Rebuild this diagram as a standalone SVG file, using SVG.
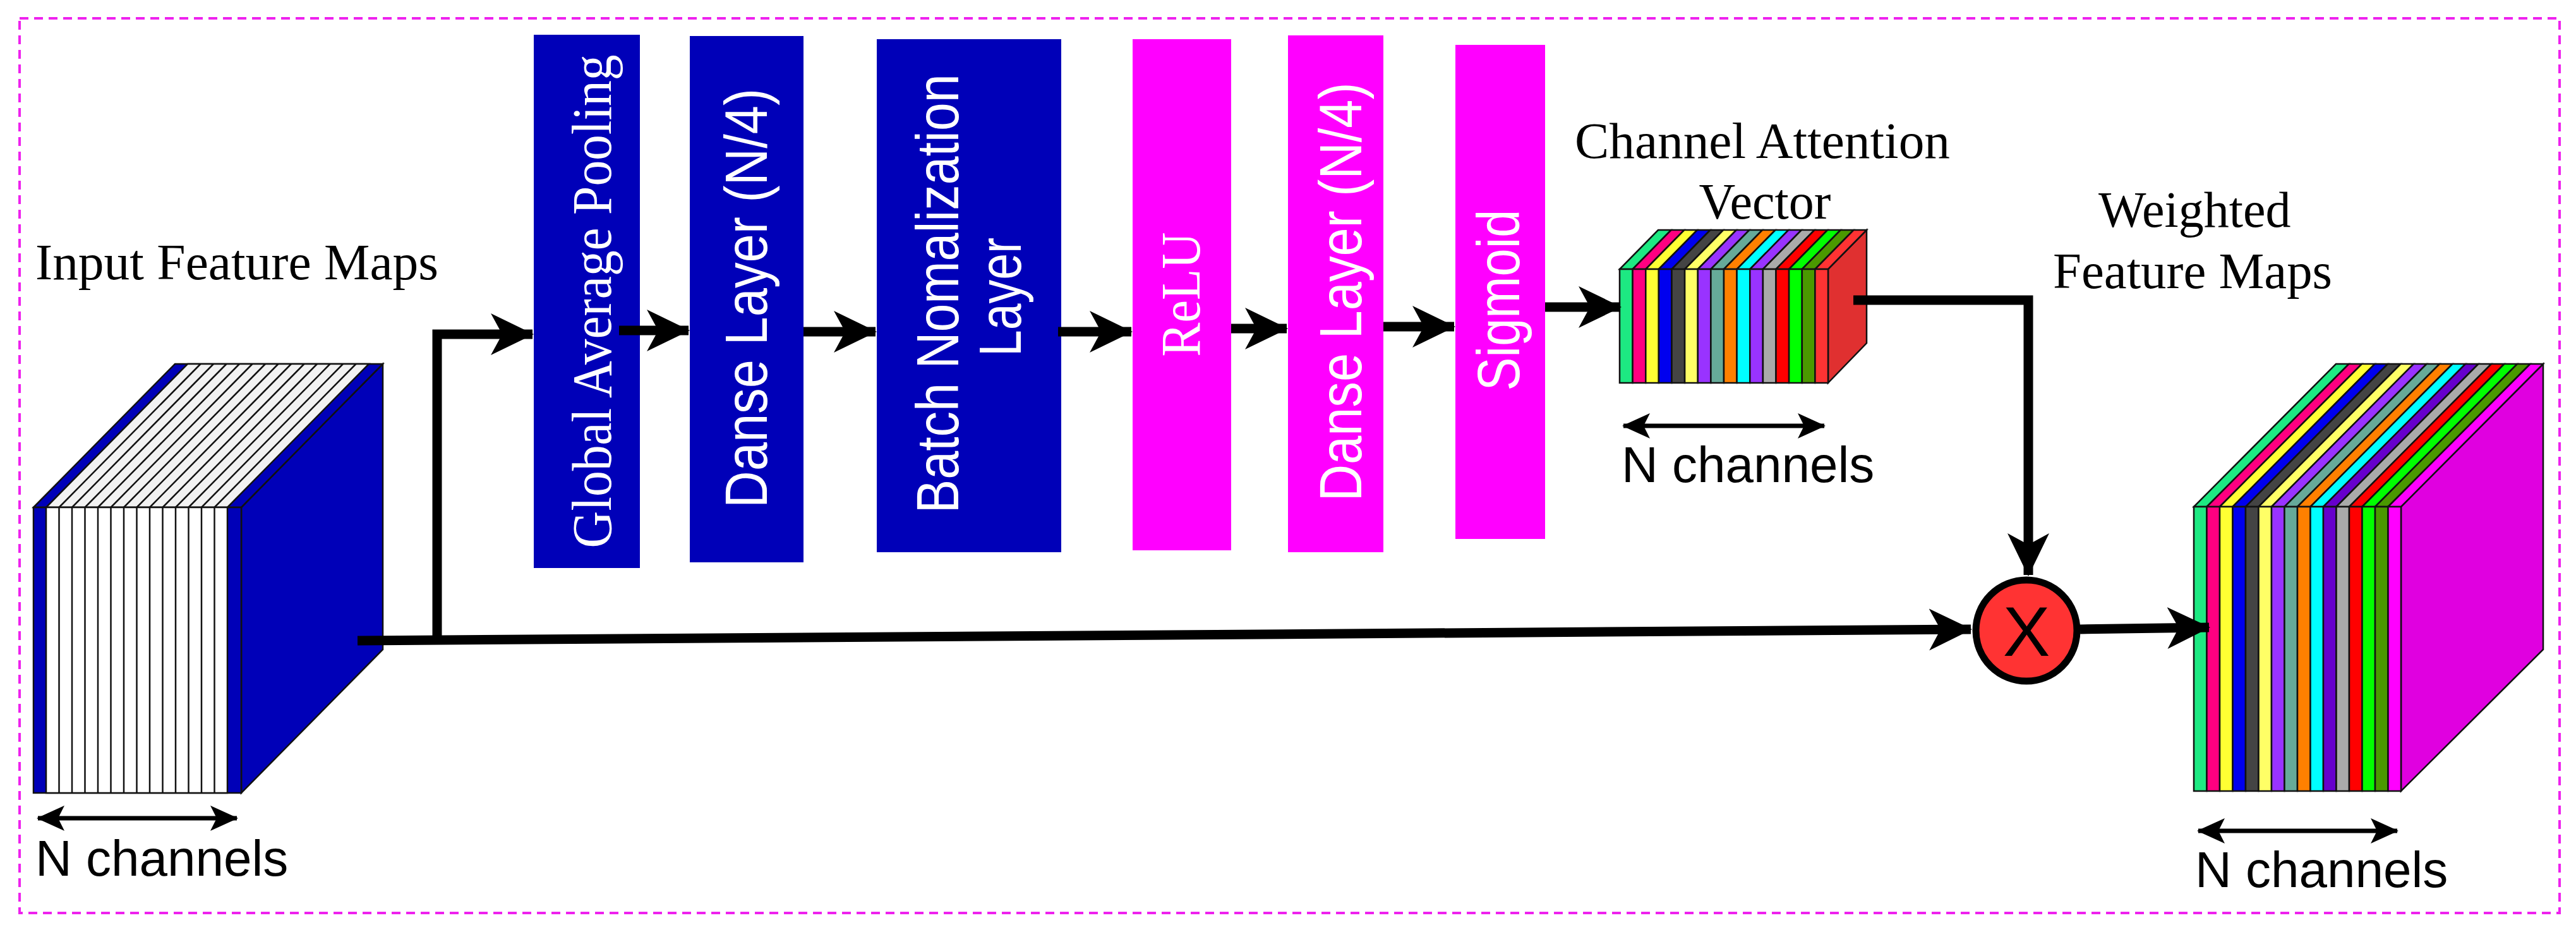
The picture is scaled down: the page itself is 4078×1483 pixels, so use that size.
<svg xmlns="http://www.w3.org/2000/svg" width="4078" height="1483" viewBox="0 0 4078 1483">
<defs>
<style>
.serif{font-family:"Liberation Serif","Times New Roman",serif;}
.sans{font-family:"Liberation Sans",Arial,sans-serif;}
.lbl{fill:#000;font-size:80px;}
.boxtxt{fill:#fff;}
.conn{fill:none;stroke:#000;stroke-width:15;}
.dim{fill:none;stroke:#000;stroke-width:7;}
.s{stroke:#111;stroke-width:2.5;}
.blue{fill:#0000b8;}
.mag{fill:#ff00ff;}
</style>
<marker id="ah" markerUnits="userSpaceOnUse" markerWidth="70" markerHeight="70" viewBox="0 0 70 66" refX="66" refY="33" orient="auto">
<path d="M0,0 L68,33 L0,66 L18,33 Z" fill="#000"/>
</marker>
<marker id="dh" markerUnits="userSpaceOnUse" markerWidth="44" markerHeight="40" viewBox="0 0 44 40" refX="42" refY="20" orient="auto-start-reverse">
<path d="M0,0 L44,20 L0,40 L10,20 Z" fill="#000"/>
</marker>
</defs>
<rect width="4078" height="1483" fill="#fff"/>
<rect x="31" y="29" width="4021" height="1416" fill="none" stroke="#ee22ee" stroke-width="4" stroke-dasharray="14 9"/>

<g id="input-feature-maps">
<text class="serif lbl" x="56" y="442" font-size="82" textLength="638" lengthAdjust="spacingAndGlyphs">Input Feature Maps</text>
<polygon class="blue s" points="382,803 606,576 606,1028 382,1255"/>
<polygon class="blue s" points="53,803 277,576 606,576 382,803"/>
<polygon fill="#f2f2f2" class="s" points="73,803 297,576 584,576 360,803"/>
<g stroke="#111" stroke-width="2.5">
<line x1="93.5" y1="803" x2="317.5" y2="576"/><line x1="114" y1="803" x2="338" y2="576"/><line x1="134.5" y1="803" x2="358.5" y2="576"/><line x1="155" y1="803" x2="379" y2="576"/><line x1="175.5" y1="803" x2="399.5" y2="576"/><line x1="196" y1="803" x2="420" y2="576"/><line x1="216.5" y1="803" x2="440.5" y2="576"/><line x1="237" y1="803" x2="461" y2="576"/><line x1="257.5" y1="803" x2="481.5" y2="576"/><line x1="278" y1="803" x2="502" y2="576"/><line x1="298.5" y1="803" x2="522.5" y2="576"/><line x1="319" y1="803" x2="543" y2="576"/><line x1="339.5" y1="803" x2="563.5" y2="576"/>
</g>
<rect class="blue s" x="53" y="803" width="329" height="452"/>
<rect fill="#fff" class="s" x="73" y="803" width="287" height="452"/>
<g stroke="#111" stroke-width="2.5">
<line x1="93.5" y1="803" x2="93.5" y2="1255"/><line x1="114" y1="803" x2="114" y2="1255"/><line x1="134.5" y1="803" x2="134.5" y2="1255"/><line x1="155" y1="803" x2="155" y2="1255"/><line x1="175.5" y1="803" x2="175.5" y2="1255"/><line x1="196" y1="803" x2="196" y2="1255"/><line x1="216.5" y1="803" x2="216.5" y2="1255"/><line x1="237" y1="803" x2="237" y2="1255"/><line x1="257.5" y1="803" x2="257.5" y2="1255"/><line x1="278" y1="803" x2="278" y2="1255"/><line x1="298.5" y1="803" x2="298.5" y2="1255"/><line x1="319" y1="803" x2="319" y2="1255"/><line x1="339.5" y1="803" x2="339.5" y2="1255"/>
</g>
<line class="dim" x1="60" y1="1295" x2="375" y2="1295" marker-start="url(#dh)" marker-end="url(#dh)"/>
<text class="sans lbl" x="56" y="1386" font-size="84">N channels</text>
</g>

<g id="gap">
<rect class="blue" x="845" y="55" width="168" height="844"/>
<text class="serif boxtxt" transform="translate(937,477) rotate(-90)" text-anchor="middle" dominant-baseline="central" font-size="88" textLength="781" lengthAdjust="spacingAndGlyphs">Global Average Pooling</text>
</g>
<g id="dense1">
<rect class="blue" x="1092" y="57" width="180" height="833"/>
<text class="sans boxtxt" transform="translate(1181,472) rotate(-90)" text-anchor="middle" dominant-baseline="central" font-size="94" textLength="664" lengthAdjust="spacingAndGlyphs">Danse Layer (N/4)</text>
</g>
<g id="batchnorm">
<rect class="blue" x="1388" y="62" width="292" height="812"/>
<text class="sans boxtxt" transform="translate(1484,465) rotate(-90)" text-anchor="middle" dominant-baseline="central" font-size="94" textLength="695" lengthAdjust="spacingAndGlyphs">Batch Nomalization</text>
<text class="sans boxtxt" transform="translate(1583,470) rotate(-90)" text-anchor="middle" dominant-baseline="central" font-size="94" textLength="188" lengthAdjust="spacingAndGlyphs">Layer</text>
</g>
<g id="relu">
<rect class="mag" x="1793" y="62" width="156" height="809"/>
<text class="serif boxtxt" transform="translate(1869,466) rotate(-90)" text-anchor="middle" dominant-baseline="central" font-size="88" textLength="197" lengthAdjust="spacingAndGlyphs">ReLU</text>
</g>
<g id="dense2">
<rect class="mag" x="2039" y="56" width="151" height="818"/>
<text class="sans boxtxt" transform="translate(2122,462) rotate(-90)" text-anchor="middle" dominant-baseline="central" font-size="94" textLength="663" lengthAdjust="spacingAndGlyphs">Danse Layer (N/4)</text>
</g>
<g id="sigmoid">
<rect class="mag" x="2304" y="71" width="142" height="782"/>
<text class="sans boxtxt" transform="translate(2372,475) rotate(-90)" text-anchor="middle" dominant-baseline="central" font-size="94" textLength="287" lengthAdjust="spacingAndGlyphs">Sigmoid</text>
</g>

<g id="attention-vector">
<text class="serif lbl" x="2493" y="250" font-size="84" textLength="594" lengthAdjust="spacingAndGlyphs">Channel Attention</text>
<text class="serif lbl" x="2794" y="346" font-size="84" text-anchor="middle">Vector</text>
<polygon fill="#e03030" class="s" points="2894,426 2955,364 2955,543 2894,606"/>
<g class="s">
<polygon fill="#1de982" points="2564,426 2584.6,426 2645.6,364 2625,364"/>
<polygon fill="#ff0080" points="2584.6,426 2605.3,426 2666.3,364 2645.6,364"/>
<polygon fill="#ffff33" points="2605.3,426 2625.9,426 2686.9,364 2666.3,364"/>
<polygon fill="#0000ee" points="2625.9,426 2646.5,426 2707.5,364 2686.9,364"/>
<polygon fill="#444444" points="2646.5,426 2667.1,426 2728.1,364 2707.5,364"/>
<polygon fill="#ffff66" points="2667.1,426 2687.8,426 2748.8,364 2728.1,364"/>
<polygon fill="#9933ff" points="2687.8,426 2708.4,426 2769.4,364 2748.8,364"/>
<polygon fill="#66aa99" points="2708.4,426 2729,426 2790,364 2769.4,364"/>
<polygon fill="#ff8000" points="2729,426 2749.6,426 2810.6,364 2790,364"/>
<polygon fill="#00ffff" points="2749.6,426 2770.3,426 2831.3,364 2810.6,364"/>
<polygon fill="#9933ff" points="2770.3,426 2790.9,426 2851.9,364 2831.3,364"/>
<polygon fill="#aaaaaa" points="2790.9,426 2811.5,426 2872.5,364 2851.9,364"/>
<polygon fill="#ff0000" points="2811.5,426 2832.1,426 2893.1,364 2872.5,364"/>
<polygon fill="#00ff00" points="2832.1,426 2852.8,426 2913.8,364 2893.1,364"/>
<polygon fill="#4a9900" points="2852.8,426 2873.4,426 2934.4,364 2913.8,364"/>
<polygon fill="#ff3333" points="2873.4,426 2894,426 2955,364 2934.4,364"/>
<rect fill="#1de982" x="2564" y="426" width="20.6" height="180"/>
<rect fill="#ff0080" x="2584.6" y="426" width="20.7" height="180"/>
<rect fill="#ffff33" x="2605.3" y="426" width="20.6" height="180"/>
<rect fill="#0000ee" x="2625.9" y="426" width="20.6" height="180"/>
<rect fill="#444444" x="2646.5" y="426" width="20.6" height="180"/>
<rect fill="#ffff66" x="2667.1" y="426" width="20.7" height="180"/>
<rect fill="#9933ff" x="2687.8" y="426" width="20.6" height="180"/>
<rect fill="#66aa99" x="2708.4" y="426" width="20.6" height="180"/>
<rect fill="#ff8000" x="2729" y="426" width="20.6" height="180"/>
<rect fill="#00ffff" x="2749.6" y="426" width="20.7" height="180"/>
<rect fill="#9933ff" x="2770.3" y="426" width="20.6" height="180"/>
<rect fill="#aaaaaa" x="2790.9" y="426" width="20.6" height="180"/>
<rect fill="#ff0000" x="2811.5" y="426" width="20.6" height="180"/>
<rect fill="#00ff00" x="2832.1" y="426" width="20.7" height="180"/>
<rect fill="#4a9900" x="2852.8" y="426" width="20.6" height="180"/>
<rect fill="#ff3333" x="2873.4" y="426" width="20.6" height="180"/>
</g>
<line class="dim" x1="2570" y1="674" x2="2888" y2="674" marker-start="url(#dh)" marker-end="url(#dh)"/>
<text class="sans lbl" x="2567" y="763" font-size="84">N channels</text>
</g>

<g id="multiply">
<circle cx="3208" cy="998" r="80" fill="#ff3333" stroke="#000" stroke-width="11"/>
<text class="sans" x="3208" y="1038" text-anchor="middle" font-size="112" fill="#000">X</text>
</g>

<g id="weighted-feature-maps">
<text class="serif lbl" x="3322" y="359" font-size="84">Weighted</text>
<text class="serif lbl" x="3250" y="456" font-size="84" textLength="442" lengthAdjust="spacingAndGlyphs">Feature Maps</text>
<polygon fill="#e000e0" class="s" points="3801,802 4026,576 4026,1028 3801,1252"/>
<g class="s">
<polygon fill="#1de982" points="3473,802 3493.5,802 3718.5,576 3698,576"/>
<polygon fill="#ff0080" points="3493.5,802 3514,802 3739,576 3718.5,576"/>
<polygon fill="#ffff33" points="3514,802 3534.5,802 3759.5,576 3739,576"/>
<polygon fill="#0000ee" points="3534.5,802 3555,802 3780,576 3759.5,576"/>
<polygon fill="#444444" points="3555,802 3575.5,802 3800.5,576 3780,576"/>
<polygon fill="#ffff66" points="3575.5,802 3596,802 3821,576 3800.5,576"/>
<polygon fill="#9933ff" points="3596,802 3616.5,802 3841.5,576 3821,576"/>
<polygon fill="#66aa99" points="3616.5,802 3637,802 3862,576 3841.5,576"/>
<polygon fill="#ff8000" points="3637,802 3657.5,802 3882.5,576 3862,576"/>
<polygon fill="#00ffff" points="3657.5,802 3678,802 3903,576 3882.5,576"/>
<polygon fill="#6600cc" points="3678,802 3698.5,802 3923.5,576 3903,576"/>
<polygon fill="#aaaaaa" points="3698.5,802 3719,802 3944,576 3923.5,576"/>
<polygon fill="#ff0000" points="3719,802 3739.5,802 3964.5,576 3944,576"/>
<polygon fill="#00ff00" points="3739.5,802 3760,802 3985,576 3964.5,576"/>
<polygon fill="#4a9900" points="3760,802 3780.5,802 4005.5,576 3985,576"/>
<polygon fill="#ff00ff" points="3780.5,802 3801,802 4026,576 4005.5,576"/>
<rect fill="#1de982" x="3473" y="802" width="20.5" height="450"/>
<rect fill="#ff0080" x="3493.5" y="802" width="20.5" height="450"/>
<rect fill="#ffff33" x="3514" y="802" width="20.5" height="450"/>
<rect fill="#0000ee" x="3534.5" y="802" width="20.5" height="450"/>
<rect fill="#444444" x="3555" y="802" width="20.5" height="450"/>
<rect fill="#ffff66" x="3575.5" y="802" width="20.5" height="450"/>
<rect fill="#9933ff" x="3596" y="802" width="20.5" height="450"/>
<rect fill="#66aa99" x="3616.5" y="802" width="20.5" height="450"/>
<rect fill="#ff8000" x="3637" y="802" width="20.5" height="450"/>
<rect fill="#00ffff" x="3657.5" y="802" width="20.5" height="450"/>
<rect fill="#6600cc" x="3678" y="802" width="20.5" height="450"/>
<rect fill="#aaaaaa" x="3698.5" y="802" width="20.5" height="450"/>
<rect fill="#ff0000" x="3719" y="802" width="20.5" height="450"/>
<rect fill="#00ff00" x="3739.5" y="802" width="20.5" height="450"/>
<rect fill="#4a9900" x="3760" y="802" width="20.5" height="450"/>
<rect fill="#ff00ff" x="3780.5" y="802" width="20.5" height="450"/>
</g>
<line class="dim" x1="3480" y1="1315" x2="3795" y2="1315" marker-start="url(#dh)" marker-end="url(#dh)"/>
<text class="sans lbl" x="3475" y="1404" font-size="84">N channels</text>
</g>

<g id="connectors">
<path class="conn" d="M566,1014 L3120,996" marker-end="url(#ah)"/>
<path class="conn" d="M692,1014 V529 H843" marker-end="url(#ah)"/>
<path class="conn" d="M980,523 H1090" marker-end="url(#ah)"/>
<path class="conn" d="M1272,525 H1386" marker-end="url(#ah)"/>
<path class="conn" d="M1675,525 H1791" marker-end="url(#ah)"/>
<path class="conn" d="M1949,520 H2037" marker-end="url(#ah)"/>
<path class="conn" d="M2190,517 H2302" marker-end="url(#ah)"/>
<path class="conn" d="M2446,486 H2565" marker-end="url(#ah)"/>
<path class="conn" d="M2934,475 H3211 V910" marker-end="url(#ah)"/>
<path class="conn" d="M3293,996 L3497,993" marker-end="url(#ah)"/>
</g>
</svg>
